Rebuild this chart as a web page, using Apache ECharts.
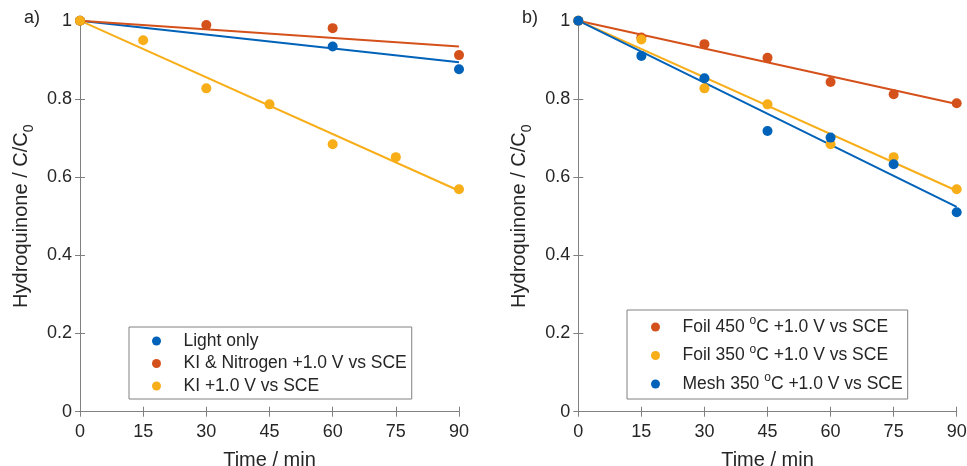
<!DOCTYPE html>
<html>
<head>
<meta charset="utf-8">
<script src="https://cdn.jsdelivr.net/npm/echarts@6/dist/echarts.min.js"></script>
<style>html,body{margin:0;padding:0;background:#fff;}#c{width:967px;height:466px;}</style>
</head>
<body>
<div id="c"></div>
<script>
// ---- Data ----
const timeLight = [0, 60, 90];
const lightOnlyVals = [1.0, 0.934, 0.876];
const timeKIN2 = [0, 30, 60, 90];
const kiNitrogen = [1.0, 0.989, 0.981, 0.912];
const timeFull = [0, 15, 30, 45, 60, 75, 90];
const kiOnly = [1.0, 0.950, 0.827, 0.786, 0.684, 0.651, 0.569];
const foil450 = [1.0, 0.957, 0.940, 0.905, 0.843, 0.812, 0.789];
const foil350 = [1.0, 0.952, 0.827, 0.786, 0.684, 0.651, 0.569];
const mesh350 = [1.0, 0.910, 0.853, 0.718, 0.701, 0.633, 0.510];
// fitted lines: value at t=0 and t=90
const fitTimes = [0, 90];
const fitLight = [1.0, 0.894];
const fitKIN2 = [1.0, 0.934];
const fitKI = [1.0, 0.565];
const fitFoil450 = [1.0, 0.787];
const fitFoil350 = [1.0, 0.565];
const fitMesh350 = [1.0, 0.524];
const legendA = ['Light only', 'KI & Nitrogen +1.0 V vs SCE', 'KI +1.0 V vs SCE'];
const legendB = ['Foil 450 °C +1.0 V vs SCE', 'Foil 350 °C +1.0 V vs SCE', 'Mesh 350 °C +1.0 V vs SCE'];

const BLUE = '#0062B8', ORANGE = '#D5511B', YELLOW = '#F8AE18';
const AXC = '#808080', TXT = '#262626';
const FONT = '"Liberation Sans", Arial, Helvetica, sans-serif';

const pair = (xs, ys) => xs.map((x, i) => [x, ys[i]]);

const chart = echarts.init(document.getElementById('c'));

const grids = [
  {left: 80, top: 20.7, width: 379, height: 391, containLabel: false, outerBoundsMode: 'none'},
  {left: 578.3, top: 20.7, width: 378.4, height: 391, containLabel: false, outerBoundsMode: 'none'}
];

function xAxes(gi) {
  return [
    {gridIndex: gi, type: 'value', min: 0, max: 90, interval: 15, position: 'bottom',
     axisLine: {show: true, lineStyle: {color: AXC, width: 1}},
     axisTick: {show: true, inside: true, length: 5, lineStyle: {color: AXC}},
     axisLabel: {show: true, color: TXT, fontSize: 18, fontFamily: FONT, margin: 11},
     splitLine: {show: false},
     name: 'Time / min', nameLocation: 'middle', nameGap: 39,
     nameTextStyle: {color: TXT, fontSize: 20, fontFamily: FONT}},
    {gridIndex: gi, type: 'value', min: 0, max: 90, interval: 15, position: 'top',
     axisLine: {show: true, lineStyle: {color: AXC, width: 1}},
     axisTick: {show: true, inside: true, length: 5, lineStyle: {color: AXC}},
     axisLabel: {show: false}, splitLine: {show: false}}
  ];
}
function yAxes(gi) {
  return [
    {gridIndex: gi, type: 'value', min: 0, max: 1, interval: 0.2, position: 'left',
     axisLine: {show: true, lineStyle: {color: AXC, width: 1}},
     axisTick: {show: true, inside: true, length: 5, lineStyle: {color: AXC}},
     axisLabel: {show: true, color: TXT, fontSize: 18, fontFamily: FONT, margin: 8},
     splitLine: {show: false},
     name: '{n|Hydroquinone / C/C}{s|0}', nameLocation: 'middle', nameGap: 44, nameRotate: 90,
     nameTextStyle: {color: TXT, fontSize: 20, fontFamily: FONT,
       rich: {n: {fontSize: 20, fontFamily: FONT, color: TXT, lineHeight: 30},
              s: {fontSize: 14, fontFamily: FONT, color: TXT, verticalAlign: 'bottom', lineHeight: 14}}}},
    {gridIndex: gi, type: 'value', min: 0, max: 1, interval: 0.2, position: 'right',
     axisLine: {show: true, lineStyle: {color: AXC, width: 1}},
     axisTick: {show: true, inside: true, length: 5, lineStyle: {color: AXC}},
     axisLabel: {show: false}, splitLine: {show: false}}
  ];
}

function scatter(name, xi, yi, data, color) {
  return {name: name, type: 'scatter', xAxisIndex: xi, yAxisIndex: yi, data: data,
    symbol: 'circle', symbolSize: 10, itemStyle: {color: color, opacity: 1}, z: 5, silent: true};
}
function fit(xi, yi, data, color) {
  return {type: 'line', xAxisIndex: xi, yAxisIndex: yi, data: data, showSymbol: false,
    symbol: 'none', lineStyle: {color: color, width: 2}, z: 3, silent: true};
}

const supFmt = (name) => name.replace(/^(.*?) °C(.*)$/, '{t|$1 }{sup|o}{t|C$2}');

const option = {
  backgroundColor: '#fff',
  animation: false,
  grid: grids,
  xAxis: [...xAxes(0), ...xAxes(1)],
  yAxis: [...yAxes(0), ...yAxes(1)],
  legend: [
    {data: legendA, left: 129, top: 327, orient: 'vertical', icon: 'circle',
     itemWidth: 44, itemHeight: 9, itemGap: 2.5,
     padding: [4, 5, 3, 23], borderColor: AXC, borderWidth: 1, backgroundColor: '#fff',
     itemStyle: {opacity: 1},
     textStyle: {color: TXT, fontSize: 17.5, fontFamily: FONT, lineHeight: 20}},
    {data: legendB, left: 627, top: 310, orient: 'vertical', icon: 'circle',
     itemWidth: 44, itemHeight: 9, itemGap: 4.5,
     padding: [5, 5, 3, 24], borderColor: AXC, borderWidth: 1, backgroundColor: '#fff',
     itemStyle: {opacity: 1},
     formatter: supFmt,
     textStyle: {color: TXT, fontSize: 17.5, fontFamily: FONT, lineHeight: 24,
       rich: {t: {fontSize: 17.5, fontFamily: FONT, color: TXT, lineHeight: 24},
              sup: {fontSize: 12, fontFamily: FONT, color: TXT, verticalAlign: 'top', lineHeight: 14}}}}
  ],
  graphic: [
    {type: 'text', left: 24, top: 9, style: {text: 'a)', fontSize: 18, fontFamily: FONT, fill: TXT}},
    {type: 'text', left: 522, top: 9, style: {text: 'b)', fontSize: 18, fontFamily: FONT, fill: TXT}}
  ],
  series: [
    fit(0, 0, pair(fitTimes, fitLight), BLUE),
    fit(0, 0, pair(fitTimes, fitKIN2), ORANGE),
    fit(0, 0, pair(fitTimes, fitKI), YELLOW),
    scatter(legendA[0], 0, 0, pair(timeLight, lightOnlyVals), BLUE),
    scatter(legendA[1], 0, 0, pair(timeKIN2, kiNitrogen), ORANGE),
    scatter(legendA[2], 0, 0, pair(timeFull, kiOnly), YELLOW),
    fit(2, 2, pair(fitTimes, fitFoil450), ORANGE),
    fit(2, 2, pair(fitTimes, fitFoil350), YELLOW),
    fit(2, 2, pair(fitTimes, fitMesh350), BLUE),
    scatter(legendB[0], 2, 2, pair(timeFull, foil450), ORANGE),
    scatter(legendB[1], 2, 2, pair(timeFull, foil350), YELLOW),
    scatter(legendB[2], 2, 2, pair(timeFull, mesh350), BLUE)
  ]
};
chart.setOption(option);
</script>
</body>
</html>
